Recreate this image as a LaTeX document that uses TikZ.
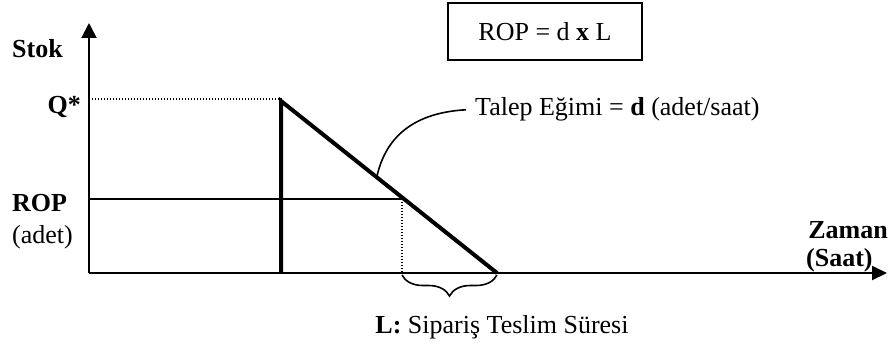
\documentclass[tikz,border=0pt]{standalone}
\usepackage{fontspec}
\setmainfont{Liberation Serif}
\usetikzlibrary{arrows.meta,decorations.pathreplacing}
\begin{document}
\begin{tikzpicture}[x=1pt,y=-1pt,
  lbl/.style={inner sep=0pt,font=\fontsize{26}{30}\selectfont},
  blbl/.style={inner sep=0pt,font=\fontsize{26}{30}\selectfont\bfseries},
  axis/.style={line width=2pt},
  heavy/.style={line width=4pt,line join=miter},
  thin/.style={line width=1.6pt},
  dotline/.style={line width=1.4pt,dash pattern=on 1.4pt off 1.6pt}]
\useasboundingbox (0,0) rectangle (890,345);
% axes
\coordinate (O) at (89,273);
\coordinate (ytop) at (89,23);
\coordinate (xend) at (887,273);
\draw[axis,-{Triangle[length=15pt,width=15pt]}] (O) -- (ytop);
\draw[axis,-{Triangle[length=15pt,width=14pt]}] (O) -- (xend);
% inventory profile
\coordinate (base) at (281,273);
\coordinate (peak) at (281,101);
\coordinate (zero) at (497,273);
\coordinate (rop) at (402,199);
\coordinate (ropfoot) at (402,273);
\coordinate (qaxis) at (89,99);
\coordinate (qend) at (283,99);
\coordinate (ropaxis) at (89,199);
\draw[dotline] (qaxis) -- (qend);
\draw[thin] (ropaxis) -- (rop);
\draw[dotline] (rop) -- (ropfoot);
\draw[heavy] (base) -- (peak) -- (zero);
% brace
\coordinate (b1) at (402,275);
\coordinate (b2) at (497,275);
\draw[line width=1.6pt,decorate,decoration={brace,amplitude=21pt,aspect=0.5,mirror}] (b1) -- (b2);
% labels
\node[blbl,anchor=base west] (stok) at (12,57) {Stok};
\node[blbl,anchor=base east] (q) at (81,113) {Q*};
\node[blbl,anchor=base west] (ropl) at (12,211) {ROP};
\node[lbl,anchor=base west] (adet) at (12,243) {(adet)};
\node[blbl,anchor=base east] (zaman) at (888,238) {Zaman};
\node[blbl,anchor=base west] (saat) at (806,266) {(Saat)};
\node[lbl,anchor=base] (lt) at (502,333) {\textbf{L:} Sipariş Teslim Süresi};
\node[lbl,draw,line width=1.6pt,minimum width=194pt,minimum height=57pt] (box) at (545,31.5) {ROP = d \textbf{x} L};
\node[lbl,anchor=base west] (talep) at (475,115) {Talep Eğimi = \textbf{d} (adet/saat)};
\coordinate (lead) at (377,176);
\draw[line width=1.6pt] ([xshift=-9pt,yshift=-1pt]talep.west) .. controls (425,112) and (388,128) .. (lead);
\end{tikzpicture}
\end{document}
